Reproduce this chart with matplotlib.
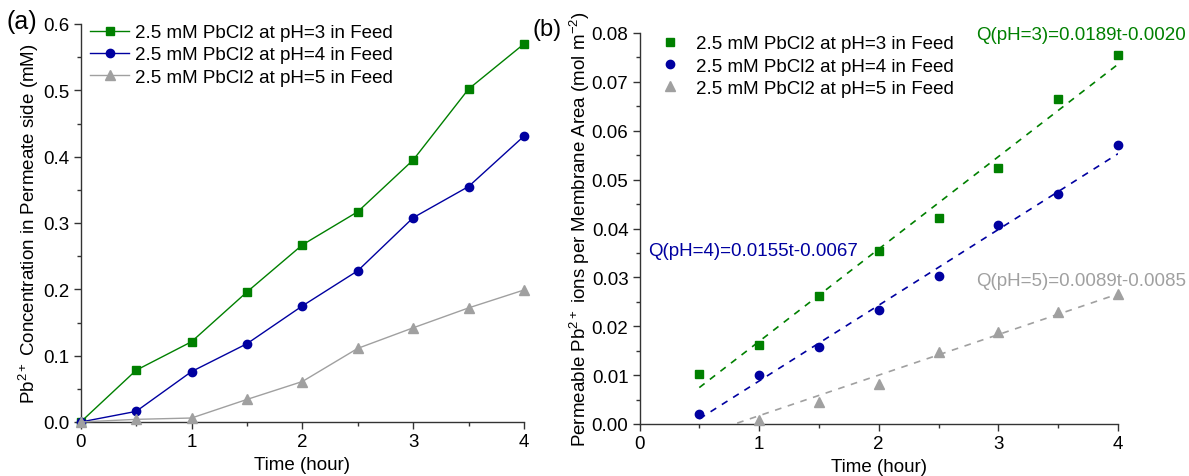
import numpy as np
import matplotlib
matplotlib.use("Agg")
import matplotlib.pyplot as plt
from matplotlib.ticker import MultipleLocator, FormatStrFormatter

plt.rcParams['font.family'] = ['Liberation Sans', 'DejaVu Sans']
plt.rcParams['mathtext.fontset'] = 'custom'
plt.rcParams['mathtext.rm'] = 'Liberation Sans'
plt.rcParams['mathtext.it'] = 'Liberation Sans:italic'

# ---------------- data ----------------
labels = ["2.5 mM PbCl2 at pH=3 in Feed",
          "2.5 mM PbCl2 at pH=4 in Feed",
          "2.5 mM PbCl2 at pH=5 in Feed"]
colors = ["#008000", "#0000A0", "#A0A0A0"]
markers = ["s", "o", "^"]

time_a = [0, 0.5, 1, 1.5, 2, 2.5, 3, 3.5, 4]
conc_ph3 = [0.0, 0.078, 0.121, 0.196, 0.267, 0.317, 0.395, 0.502, 0.570]
conc_ph4 = [0.0, 0.016, 0.076, 0.118, 0.175, 0.228, 0.308, 0.355, 0.431]
conc_ph5 = [0.0, 0.004, 0.006, 0.034, 0.061, 0.111, 0.142, 0.172, 0.199]

time_b3 = [0.5, 1, 1.5, 2, 2.5, 3, 3.5, 4]
q_ph3 = [0.0103, 0.0162, 0.0261, 0.0354, 0.0421, 0.0524, 0.0665, 0.0755]
time_b4 = [0.5, 1, 1.5, 2, 2.5, 3, 3.5, 4]
q_ph4 = [0.0021, 0.0101, 0.0157, 0.0233, 0.0303, 0.0408, 0.0471, 0.0571]
time_b5 = [1, 1.5, 2, 2.5, 3, 3.5, 4]
q_ph5 = [0.0009, 0.0045, 0.0082, 0.0148, 0.0189, 0.0230, 0.0266]

# fitted lines as drawn (slope, intercept)
fit_slope = [0.0189, 0.0155, 0.0083]
fit_intercept = [-0.0020, -0.0067, -0.0066]
fit_range = [0.5, 4]
fit_texts = ["Q(pH=3)=0.0189t-0.0020",
             "Q(pH=4)=0.0155t-0.0067",
             "Q(pH=5)=0.0089t-0.0085"]

# ---------------- figure ----------------
W, H = 1189, 477
FS = 13.5
fig = plt.figure(figsize=(W / 100, H / 100), dpi=100)

def px_axes(l, r, b, t):
    return fig.add_axes([l / W, 1 - b / H, (r - l) / W, (b - t) / H])

def fpt(x, y):
    return (x / W, 1 - y / H)

axA = px_axes(80.7, 524, 423, 25)
axB = px_axes(639.5, 1118, 425, 34)

def style(ax):
    for s in ["top", "right"]:
        ax.spines[s].set_visible(False)
    for s in ["left", "bottom"]:
        ax.spines[s].set_linewidth(1.0)
        ax.spines[s].set_color("#333333")
    ax.tick_params(which="major", direction="out", length=5, width=1,
                   labelsize=FS, color="#333333", pad=3)
    ax.tick_params(which="minor", direction="out", length=3, width=1,
                   color="#333333")
    ax.xaxis.set_major_locator(MultipleLocator(1))
    ax.xaxis.set_minor_locator(MultipleLocator(0.5))
    ax.set_xlim(0, 4)

# Panel (a)
style(axA)
series_a = [conc_ph3, conc_ph4, conc_ph5]
for y, c, m, lab in zip(series_a, colors, markers, labels):
    axA.plot(time_a, y, color=c, marker=m, lw=1.0,
             ms=6 if m != "^" else 7, label=lab, clip_on=False, zorder=3)
axA.set_ylim(0, 0.6)
axA.yaxis.set_major_locator(MultipleLocator(0.1))
axA.yaxis.set_minor_locator(MultipleLocator(0.05))
axA.yaxis.set_major_formatter(FormatStrFormatter("%.1f"))
axA.set_xlabel("Time (hour)", fontsize=FS, labelpad=4)
axA.set_ylabel("Pb$^{2+}$ Concentration in Permeate side (mM)", fontsize=FS,
               labelpad=2)
axA.legend(loc="upper left", bbox_to_anchor=fpt(90, 25),
           bbox_transform=fig.transFigure, frameon=False, borderpad=0,
           borderaxespad=0, fontsize=FS, handlelength=2.1, handletextpad=0.3,
           labelspacing=0.28)
fig.text(*fpt(7, 22), "(a)", fontsize=18, va="center", ha="left")

# Panel (b)
style(axB)
tb = [time_b3, time_b4, time_b5]
qb = [q_ph3, q_ph4, q_ph5]
for x, y, c, m, lab in zip(tb, qb, colors, markers, labels):
    axB.plot(x, y, ls="none", color=c, marker=m,
             ms=6 if m != "^" else 7, label=lab, clip_on=False, zorder=3)
xf = np.linspace(fit_range[0], fit_range[1], 200)
for k, c in enumerate(colors):
    yf = fit_slope[k] * xf + fit_intercept[k]
    axB.plot(xf, yf, ls=(0, (4, 4)), color=c, lw=1.2, zorder=2)
axB.set_ylim(0, 0.08)
axB.yaxis.set_major_locator(MultipleLocator(0.01))
axB.yaxis.set_minor_locator(MultipleLocator(0.005))
axB.yaxis.set_major_formatter(FormatStrFormatter("%.2f"))
axB.set_xlabel("Time (hour)", fontsize=FS, labelpad=4)
axB.set_ylabel("Permeable Pb$^{2+}$ ions per Membrane Area (mol m$^{-2}$)",
               fontsize=FS, labelpad=0)
axB.legend(loc="upper left", bbox_to_anchor=fpt(661, 36),
           bbox_transform=fig.transFigure, frameon=False, borderpad=0,
           borderaxespad=0, fontsize=FS, handlelength=1.0, handletextpad=0.85,
           labelspacing=0.28)
fig.text(*fpt(547, 30), "(b)", fontsize=17, va="center", ha="center")

fig.text(*fpt(1186, 36), fit_texts[0], color=colors[0], fontsize=FS,
         ha="right", va="center")
fig.text(*fpt(648, 252), fit_texts[1], color=colors[1], fontsize=FS,
         ha="left", va="center")
fig.text(*fpt(1186, 282), fit_texts[2], color=colors[2], fontsize=FS,
         ha="right", va="center")

fig.savefig("out.png", dpi=100)
